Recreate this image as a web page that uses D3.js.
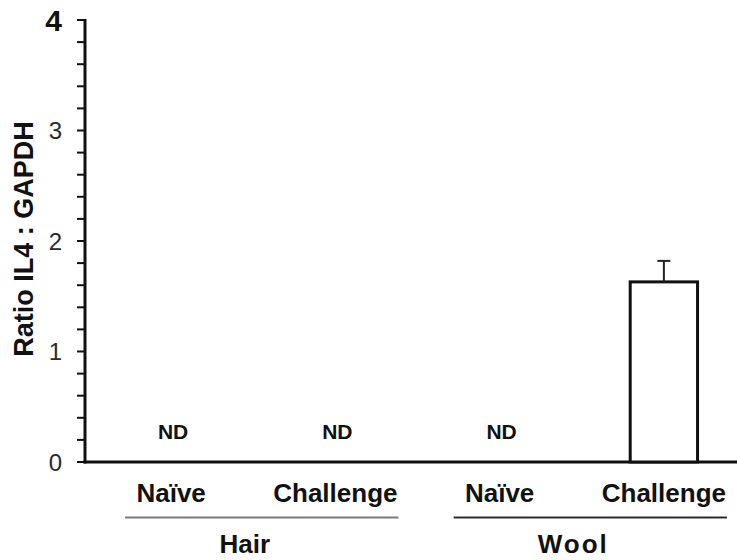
<!DOCTYPE html>
<html>
<head>
<meta charset="utf-8">
<script src="https://cdn.jsdelivr.net/npm/d3@7"></script>
<style>
  html, body { margin: 0; padding: 0; background: #fff; }
  svg { display: block; }
  text { font-family: "Liberation Sans", Arial, sans-serif; }
</style>
</head>
<body>
<svg id="chart" width="737" height="560"></svg>
<script>
// IL4 expression relative to GAPDH, per group and condition
const conditions = ["Naïve", "Challenge", "Naïve", "Challenge"];
const groups = ["Hair", "Hair", "Wool", "Wool"];
const groupNames = ["Hair", "Wool"];
const values = [null, null, null, 1.63];   // null = not detected
const errors = [null, null, null, 0.19];
const yTicks = [0, 1, 2, 3, 4];
const ndLabel = "ND";

const svg = d3.select("#chart");
const W = 737, H = 560;
const axisX = 85, y0 = 462, yTop = 20;

const y = d3.scaleLinear().domain([0, 4]).range([y0, yTop]);
const x = d3.scaleBand()
  .domain(d3.range(conditions.length))
  .range([89, 746])
  .paddingInner(0.59)
  .paddingOuter(0.295);

// y axis: minor ticks every 0.2
const minor = d3.range(0, 4.0001, 0.2);
svg.append("g").selectAll("line").data(minor).join("line")
  .attr("x1", axisX - 8).attr("x2", axisX)
  .attr("y1", d => y(d)).attr("y2", d => y(d))
  .attr("stroke", "#111").attr("stroke-width", 2);

svg.append("line")
  .attr("x1", axisX).attr("x2", axisX)
  .attr("y1", y(4) - 1).attr("y2", y0 + 1.5)
  .attr("stroke", "#111").attr("stroke-width", 3);

// baseline
svg.append("line")
  .attr("x1", axisX - 1.5).attr("x2", W)
  .attr("y1", y0).attr("y2", y0)
  .attr("stroke", "#111").attr("stroke-width", 3);

// tick labels
svg.append("g").selectAll("text").data(yTicks).join("text")
  .attr("x", 62)
  .attr("y", d => y(d))
  .attr("dy", "0.36em")
  .attr("text-anchor", "end")
  .attr("font-size", d => d === 4 ? 30 : 24)
  .attr("font-weight", d => d === 4 ? "bold" : "normal")
  .attr("fill", d => d === 4 ? "#111" : "#2a2a2a")
  .text(d => d);

// y title
svg.append("text")
  .attr("transform", `translate(33,${(122 + 356) / 2}) rotate(-90)`)
  .attr("text-anchor", "middle")
  .attr("font-size", 27)
  .attr("font-weight", "bold")
  .attr("fill", "#111")
  .text("Ratio IL4 : GAPDH");

const idx = d3.range(conditions.length);
const cx = i => x(i) + x.bandwidth() / 2;

// bars
const withVal = idx.filter(i => values[i] != null);
svg.append("g").selectAll("rect").data(withVal).join("rect")
  .attr("x", i => x(i))
  .attr("y", i => y(values[i]))
  .attr("width", x.bandwidth())
  .attr("height", i => y(0) - y(values[i]))
  .attr("fill", "#fff")
  .attr("stroke", "#111")
  .attr("stroke-width", 3);

// error bars (upper only)
const eb = svg.append("g").attr("stroke", "#222").attr("stroke-width", 2);
withVal.forEach(i => {
  eb.append("line")
    .attr("x1", cx(i)).attr("x2", cx(i))
    .attr("y1", y(values[i])).attr("y2", y(values[i] + errors[i]));
  eb.append("line")
    .attr("x1", cx(i) - 6.5).attr("x2", cx(i) + 6.5)
    .attr("y1", y(values[i] + errors[i])).attr("y2", y(values[i] + errors[i]));
});

// not-detected labels
svg.append("g").selectAll("text").data(idx.filter(i => values[i] == null)).join("text")
  .attr("x", i => cx(i) + 2)
  .attr("y", 439)
  .attr("text-anchor", "middle")
  .attr("font-size", 21)
  .attr("font-weight", "bold")
  .attr("fill", "#111")
  .text(ndLabel);

// condition labels
svg.append("g").selectAll("text").data(idx).join("text")
  .attr("x", i => cx(i))
  .attr("y", 502)
  .attr("text-anchor", "middle")
  .attr("font-size", 26)
  .attr("font-weight", "bold")
  .attr("fill", "#111")
  .text(i => conditions[i]);

// group brackets and names
const lineColors = ["#7a7a7a", "#2a2a2a"];
groupNames.forEach((g, k) => {
  const members = idx.filter(i => groups[i] === g);
  const x1 = cx(members[0]) - 46;
  const x2 = cx(members[members.length - 1]) + 63;
  svg.append("line")
    .attr("x1", x1).attr("x2", x2)
    .attr("y1", 517.5).attr("y2", 517.5)
    .attr("stroke", lineColors[k]).attr("stroke-width", 2.2);
  svg.append("text")
    .attr("x", (x1 + x2) / 2 - 17)
    .attr("y", 553)
    .attr("text-anchor", "middle")
    .attr("font-size", 26)
    .attr("font-weight", "bold")
    .attr("fill", "#111")
    .attr("letter-spacing", g === "Wool" ? 2 : 0)
    .text(g);
});
</script>
</body>
</html>
